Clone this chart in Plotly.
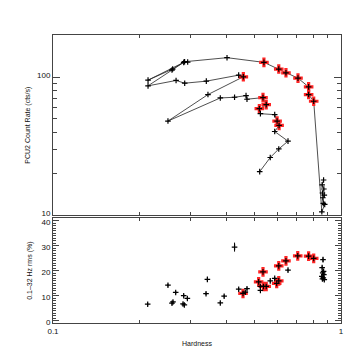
import plotly.graph_objects as go

# ---- Top panel: hardness-intensity path (time ordered) ----
path_hardness = [0.870, 0.860, 0.872, 0.862, 0.875, 0.865, 0.868, 0.878, 0.858,
                 0.804, 0.772, 0.772, 0.709, 0.644, 0.608, 0.540,
                 0.402, 0.2935, 0.2864, 0.2603, 0.2138, 0.2843, 0.2589, 0.2138,
                 0.2675, 0.2866, 0.3407, 0.4413, 0.458,
                 0.3452, 0.2507, 0.381, 0.427, 0.468, 0.4716,
                 0.536, 0.550, 0.5205, 0.525, 0.5886, 0.600, 0.6096,
                 0.5886, 0.6546, 0.608, 0.568, 0.522]
path_rate = [18.0, 16.6, 15.5, 14.5, 14.0, 13.4, 12.2, 12.0, 10.6,
             66.9, 74.8, 85.0, 98.3, 107.5, 114.4, 127.9,
             138.3, 128.6, 129.3, 114.4, 95.1, 127.9, 112.5, 86.5,
             94.6, 90.4, 93.5, 103.4, 100.6,
             74.8, 48.1, 70.7, 71.5, 73.5, 69.2,
             71.1, 63.2, 59.1, 54.4, 53.5, 48.1, 44.7,
             40.4, 34.4, 30.2, 26.2, 20.7]
path_red = [0, 0, 0, 0, 0, 0, 0, 0, 0,
            1, 1, 1, 1, 1, 1, 1,
            0, 0, 0, 0, 0, 0, 0, 0,
            0, 0, 0, 0, 1,
            0, 0, 0, 0, 0, 0,
            1, 1, 1, 0, 0, 1, 1,
            0, 0, 0, 0, 0]

# ---- Bottom panel: rms vs hardness ----
black_hardness = [0.2132, 0.2507, 0.2589, 0.261, 0.2667, 0.2843, 0.2828, 0.2858, 0.2928,
                  0.3399, 0.3436, 0.4270, 0.381, 0.3929, 0.4413, 0.4653, 0.4716,
                  0.525, 0.525, 0.568, 0.5886, 0.6546,
                  0.866, 0.860, 0.870, 0.864, 0.872, 0.858, 0.868, 0.862, 0.875]
black_rms = [6.7, 14.3, 7.1, 7.6, 11.4, 10.1, 6.8, 6.4, 9.0,
             10.9, 16.6, 29.5, 7.2, 9.9, 12.7, 11.5, 12.9,
             13.8, 12.2, 16.0, 17.0, 20.3,
             24.5, 21.3, 19.8, 19.2, 18.5, 17.8, 17.2, 16.8, 16.5]
black_rms_err = [0.6, 0.6, 0.6, 0.6, 0.6, 0.6, 0.6, 0.6, 0.6,
                 0.6, 0.8, 1.8, 0.6, 0.6, 0.6, 0.6, 0.6,
                 0.6, 0.6, 0.6, 0.6, 0.6,
                 0.9, 0.8, 0.8, 0.8, 0.8, 0.8, 0.8, 0.8, 0.8]
red_hardness = [0.4568, 0.5177, 0.536, 0.538, 0.550, 0.598, 0.608, 0.608,
                0.644, 0.7076, 0.772, 0.804]
red_rms = [11.0, 15.6, 19.6, 13.8, 13.8, 15.0, 16.0, 22.0,
           24.0, 26.0, 25.9, 25.0]

LINE = "#444444"
TXT = "#111111"
FONT = dict(family="Liberation Sans, Arial, sans-serif", size=8, color=TXT)
TFONT = dict(family="Liberation Sans, Arial, sans-serif", size=7, color=TXT)

RED = dict(symbol="cross", size=8, color="#ff2424", line=dict(width=0))
BLK = dict(symbol="cross-thin", size=4, line=dict(width=1.2, color="black"))

fig = go.Figure()

fig.add_trace(go.Scatter(x=path_hardness, y=path_rate, mode="lines",
                         line=dict(color="#222222", width=0.8),
                         xaxis="x", yaxis="y", hoverinfo="skip", showlegend=False))
rx = [h for h, r in zip(path_hardness, path_red) if r]
ry = [c for c, r in zip(path_rate, path_red) if r]
bx = [h for h, r in zip(path_hardness, path_red) if not r]
by = [c for c, r in zip(path_rate, path_red) if not r]
fig.add_trace(go.Scatter(x=rx, y=ry, mode="markers", marker=RED,
                         xaxis="x", yaxis="y", showlegend=False))
fig.add_trace(go.Scatter(x=rx, y=ry, mode="markers", marker=BLK,
                         xaxis="x", yaxis="y", showlegend=False))
fig.add_trace(go.Scatter(x=bx, y=by, mode="markers", marker=BLK,
                         xaxis="x", yaxis="y", showlegend=False))

fig.add_trace(go.Scatter(x=red_hardness, y=red_rms, mode="markers", marker=RED,
                         xaxis="x2", yaxis="y2", showlegend=False))
fig.add_trace(go.Scatter(x=red_hardness, y=red_rms, mode="markers", marker=BLK,
                         xaxis="x2", yaxis="y2", showlegend=False))
fig.add_trace(go.Scatter(x=black_hardness, y=black_rms, mode="markers",
                         error_y=dict(type="data", array=black_rms_err, color="black", thickness=1, width=0),
                         marker=BLK, xaxis="x2", yaxis="y2", showlegend=False))

minor_x = [0.2, 0.3, 0.4, 0.5, 0.6, 0.7, 0.8, 0.9]
common = dict(showline=True, linecolor=LINE, linewidth=1, mirror="allticks",
              ticks="inside", tickcolor=LINE, showgrid=False, zeroline=False,
              tickfont=FONT, automargin=False)

fig.update_layout(
    template="none",
    width=359, height=359,
    margin=dict(l=45, r=26, t=27, b=44, pad=0),
    paper_bgcolor="white", plot_bgcolor="white",
    font=FONT,
    xaxis=dict(type="log", range=[-1, 0], domain=[0, 1], anchor="y",
               tickvals=[0.1, 1], showticklabels=False, ticklen=6,
               minor=dict(tickmode="array", tickvals=minor_x, ticks="inside", ticklen=3, tickcolor=LINE),
               **common),
    yaxis=dict(type="log", range=[1, 2.305], domain=[0.374, 1], anchor="x",
               tickvals=[10, 100], ticktext=["10", "100"], ticklen=7, ticklabelshift=-2,
               minor=dict(tickmode="array", tickvals=[20, 30, 40, 50, 60, 70, 80, 90, 200],
                          ticks="inside", ticklen=4, tickcolor=LINE),
               title=dict(text="PCU2 Count Rate (cts/s)", font=TFONT, standoff=5),
               **common),
    xaxis2=dict(type="log", range=[-1, 0], domain=[0, 1], anchor="y2",
                tickvals=[0.1, 1], ticktext=["0.1", "1"], ticklen=6,
                minor=dict(tickmode="array", tickvals=minor_x, ticks="inside", ticklen=3, tickcolor=LINE),
                title=dict(text="Hardness", font=TFONT, standoff=6),
                **common),
    yaxis2=dict(range=[-0.8, 41], domain=[0, 0.3635], anchor="x2",
                tickvals=[0, 10, 20, 30, 40], ticklen=6, ticklabelshift=1,
                minor=dict(dtick=1, ticks="inside", ticklen=3, tickcolor=LINE),
                title=dict(text="0.1–32 Hz rms (%)", font=TFONT, standoff=8),
                **common),
)

fig.write_html("out.html")
